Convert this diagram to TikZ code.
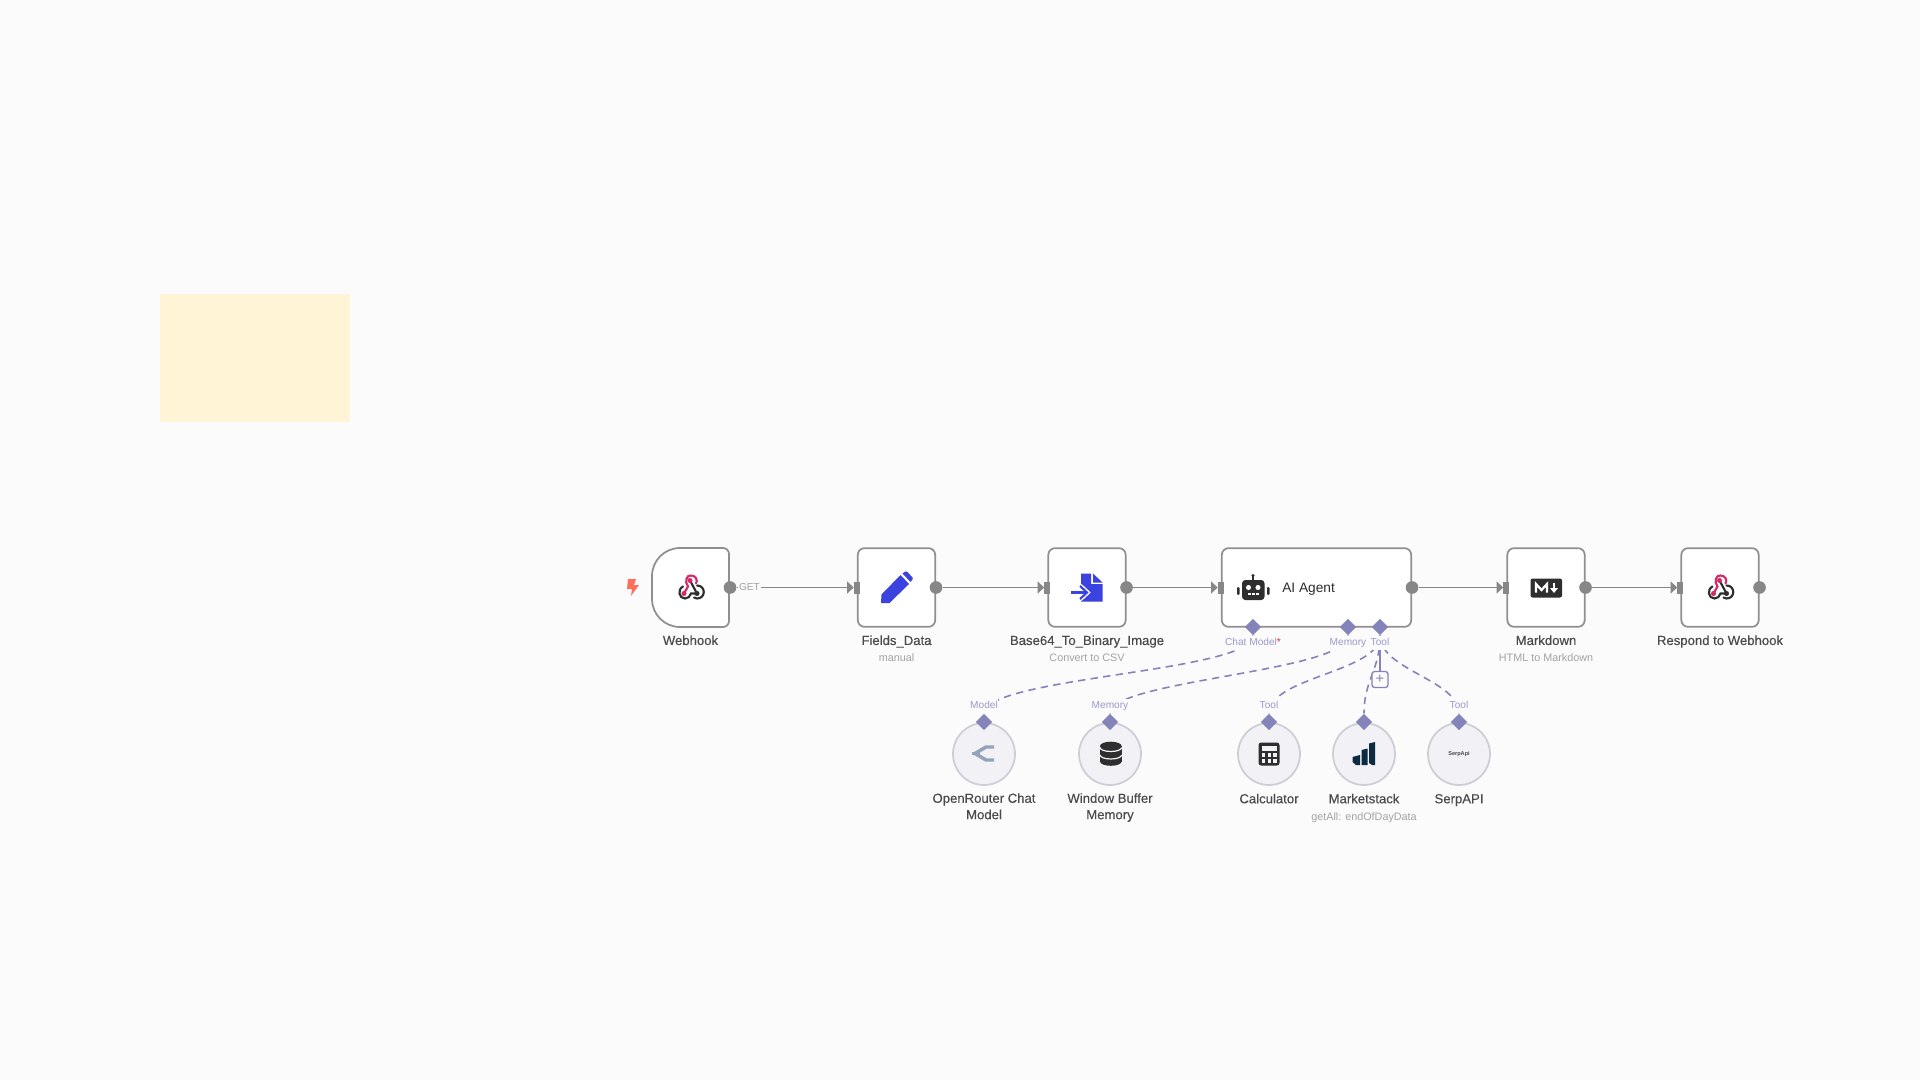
\documentclass[tikz,border=0pt]{standalone}
\usepackage{fontspec}
\setmainfont{Liberation Sans}
\newfontfamily\titlefont[FakeBold=0.25]{Liberation Sans}
\usetikzlibrary{arrows.meta,shapes.geometric}

\definecolor{canvasbg}{HTML}{FBFBFB}
\definecolor{stickyfill}{HTML}{FFF4D6}
\definecolor{boxline}{HTML}{8F8F8F}
\definecolor{portgrey}{HTML}{878787}
\definecolor{titletext}{HTML}{4A4A4A}
\definecolor{subtext}{HTML}{A3A3A3}
\definecolor{lilac}{HTML}{8584BA}
\definecolor{lilactext}{HTML}{9A99CB}
\definecolor{circlefill}{HTML}{F1F1F6}
\definecolor{circleline}{HTML}{CDCDD6}
\definecolor{iconblue}{HTML}{3A42E0}
\definecolor{icondark}{HTML}{2E2E2E}
\definecolor{iconpink}{HTML}{D62A68}
\definecolor{iconnavy}{HTML}{0D2B40}
\definecolor{iconslate}{HTML}{94A3B8}
\definecolor{boltred}{HTML}{FF6F5C}

\tikzset{
    nodebox/.style={draw=boxline, line width=1.3pt, fill=white, rounded corners=5pt, minimum width=58pt, minimum height=59pt, inner sep=0pt},
    subnode/.style={circle, draw=circleline, line width=1.3pt, fill=circlefill, minimum size=46.5pt, inner sep=0pt},
    outport/.style={circle, fill=portgrey, minimum size=9.5pt, inner sep=0pt},
    inport/.style={rectangle, fill=portgrey, minimum width=4.5pt, minimum height=9pt, inner sep=0pt},
    lilacport/.style={diamond, fill=lilac, minimum size=12.5pt, inner sep=0pt},
    flow/.style={draw=portgrey, line width=1.3pt, -{Triangle[length=5pt,width=9pt]}},
    subflow/.style={draw=lilac, line width=1.2pt, dash pattern=on 5.5pt off 4pt},
    title/.style={font=\titlefont\fontsize{9.85}{12.3}\selectfont, text=titletext, align=center, inner sep=0pt, execute at begin node=\strut},
    subtitle/.style={font=\fontsize{8.1}{10}\selectfont, text=subtext, inner sep=0pt, execute at begin node=\strut},
    portlabel/.style={font=\fontsize{7.6}{9}\selectfont, text=lilactext, fill=canvasbg, inner sep=0.4pt, execute at begin node=\strut},
    webhookicon/.pic={
        \draw[icondark, line width=1.6pt, line cap=round] (-8,-1) .. controls (-14,2) and (-12,11) .. (-6,11) .. controls (-3,11) and (-1,9) .. (0,6) -- (6,6);
        \draw[icondark, line width=1.6pt, line cap=round] (6,-2) .. controls (15,-2) and (15,11) .. (6,11) .. controls (5,11) and (4,11) .. (3,10);
        \draw[icondark, line width=1.6pt] (-1,-7) -- (6,6);
        \draw[iconpink, line width=1.6pt, line cap=round] (-7,6) -- (-3,-1) .. controls (-7,-6) and (-4,-13) .. (0,-12) .. controls (5,-12) and (7,-7) .. (5,-4);
        \fill[iconpink] (-7,6) circle (1.9pt);
        \fill[iconpink] (-1,-7) circle (1.9pt);
        \fill[icondark] (6,6) circle (1.9pt);
    },
}

\begin{document}
\begin{tikzpicture}[x=0.75pt, y=-0.75pt]
    % Canvas
    \fill[canvasbg] (0,0) rectangle (1920,1080);
    \useasboundingbox (0,0) rectangle (1920,1080);

    % Sticky note
    \fill[stickyfill] (160,294) rectangle (350,421.5);

    % Main row
    \node[nodebox, draw=none, fill=none] (webhook) at (690.5,587.5) {};
    \draw[draw=boxline, line width=1.3pt, fill=white] (690,548) -- (723,548) arc (-90:0:6) -- (729,621) arc (0:90:6) -- (680,627) arc (90:180:28) -- (652,576) arc (180:270:28) -- cycle;
    \node[nodebox] (fields) at (896.5,587.5) {};
    \node[nodebox] (base) at (1087,587.5) {};
    \node[nodebox, minimum width=142pt] (agent) at (1316.5,587.5) {};
    \node[nodebox] (markdown) at (1546,587.5) {};
    \node[nodebox] (respond) at (1720,587.5) {};

    % Ports of the main row
    \node[outport] (webhookOut) at (webhook.east) {};
    \node[inport] (fieldsIn) at (fields.west) {};
    \node[outport] (fieldsOut) at (fields.east) {};
    \node[inport] (baseIn) at (base.west) {};
    \node[outport] (baseOut) at (base.east) {};
    \node[inport] (agentIn) at (agent.west) {};
    \node[outport] (agentOut) at (agent.east) {};
    \node[inport] (markdownIn) at (markdown.west) {};
    \node[outport] (markdownOut) at (markdown.east) {};
    \node[inport] (respondIn) at (respond.west) {};
    \node[outport] (respondOut) at (respond.east) {};

    % Flow
    \draw[flow] (webhookOut) -- node[pos=0.11, font=\fontsize{7.6}{9}\selectfont, text=subtext, fill=canvasbg, inner sep=0.6pt] {GET} (fieldsIn);
    \draw[flow] (fieldsOut) -- (baseIn);
    \draw[flow] (baseOut) -- (agentIn);
    \draw[flow] (agentOut) -- (markdownIn);
    \draw[flow] (markdownOut) -- (respondIn);

    % Sub nodes
    \node[subnode] (router) at (984,754) {};
    \node[subnode] (memory) at (1110,754) {};
    \node[subnode] (calc) at (1269,754) {};
    \node[subnode] (market) at (1364,754) {};
    \node[subnode, font=\fontsize{4.2}{5}\selectfont\bfseries, text=titletext] (serp) at (1459,754) {SerpApi};

    % Lilac ports
    \node[lilacport] (chatPort) at (1253,627) {};
    \node[lilacport] (memoryPort) at (1348,627) {};
    \node[lilacport] (toolPort) at (1380,627) {};
    \node[lilacport] (routerPort) at (984,722) {};
    \node[lilacport] (bufferPort) at (1110,722) {};
    \node[lilacport] (calcPort) at (1269,722) {};
    \node[lilacport] (marketPort) at (1364,722) {};
    \node[lilacport] (serpPort) at (1459,722) {};

    % Dashed links
    \draw[subflow] (chatPort) .. controls (1253,672) and (984,677) .. (routerPort);
    \draw[subflow] (memoryPort) .. controls (1348,672) and (1110,680) .. (bufferPort);
    \draw[subflow] (toolPort) .. controls (1380,672) and (1269,677) .. (calcPort);
    \draw[subflow] (toolPort) .. controls (1380,670) and (1364,680) .. (marketPort);
    \draw[subflow] (toolPort) .. controls (1380,670) and (1459,680) .. (serpPort);

    % Add tool button
    \node[draw=lilac, line width=1pt, fill=canvasbg, rounded corners=2pt, minimum size=12pt, inner sep=0pt, text=lilac, font=\fontsize{11}{11}\selectfont] (addTool) at (1380,679.5) {+};
    \draw[draw=lilac, line width=1.2pt] (toolPort) -- (addTool);

    % Port labels
    \node[portlabel] (chatLabel) at (1253,643) {Chat Model\textcolor{red!70!lilactext}{*}};
    \node[portlabel] (memoryLabel) at (1348,643) {Memory};
    \node[portlabel] (toolLabel) at (1380,643) {Tool};
    \node[portlabel] (modelLabel) at (984,706) {Model};
    \node[portlabel] (bufferLabel) at (1110,706) {Memory};
    \node[portlabel] (calcLabel) at (1269,706) {Tool};
    \node[portlabel] (serpLabel) at (1459,706) {Tool};

    % Titles
    \node[title] (webhookTitle) at (690.5,641.7) {Webhook};
    \node[title] (fieldsTitle) at (896.5,641.7) {Fields\_Data};
    \node[subtitle] (fieldsSub) at (896.5,658.5) {manual};
    \node[title] (baseTitle) at (1087,641.7) {Base64\_To\_Binary\_Image};
    \node[subtitle] (baseSub) at (1087,658.5) {Convert to CSV};
    \node[title, anchor=west, font=\fontsize{10.3}{12.3}\selectfont, text=icondark] (agentTitle) at (1282,589) {AI Agent};
    \node[title] (markdownTitle) at (1546,641.7) {Markdown};
    \node[subtitle] (markdownSub) at (1546,658.5) {HTML to Markdown};
    \node[title] (respondTitle) at (1720,641.7) {Respond to Webhook};
    \node[title] (routerTitle) at (984,808.7) {OpenRouter Chat\\\strut Model};
    \node[title] (memoryTitle) at (1110,808.7) {Window Buffer\\\strut Memory};
    \node[title] (calcTitle) at (1269,800) {Calculator};
    \node[title] (marketTitle) at (1364,800) {Marketstack};
    \node[subtitle] (marketSub) at (1364,817.5) {getAll: endOfDayData};
    \node[title] (serpTitle) at (1459,800) {SerpAPI};

    % Trigger bolt
    \fill[boltred] (628,579) -- (636,579) -- (634,585) -- (639,585) -- (631,596) -- (632,589) -- (627,589) -- cycle;

    % Webhook icons
    \pic at (691,587.5) {webhookicon};
    \pic at (1720.5,587.5) {webhookicon};

    % Pencil
    \fill[iconblue] (881.5,594.5) -- (900.5,575) -- (909,584) -- (889.5,603) -- (881,603) -- cycle;
    \fill[iconblue] (902.5,573.5) -- (905,571.5) -- (907,571.5) -- (912.5,577.5) -- (912.5,579.5) -- (910.5,582) -- cycle;

    % Binary file
    \fill[iconblue] (1081,573.5) -- (1091,573.5) -- (1091,584) -- (1102.5,584) -- (1102.5,601.5) -- (1081,601.5) -- cycle;
    \fill[iconblue] (1093,573.5) -- (1102.5,582.5) -- (1093,582.5) -- cycle;
    \draw[white, line width=4pt] (1071,592.5) -- (1084,592.5);
    \draw[white, line width=3.8pt] (1080,586) -- (1087,592.5) -- (1080,599);
    \draw[iconblue, line width=1.6pt] (1071,592.5) -- (1086,592.5);
    \draw[iconblue, line width=1.6pt] (1080,586) -- (1087,592.5) -- (1080,599);

    % Robot
    \fill[icondark, rounded corners=2.5pt] (1242,580) rectangle (1264.5,600);
    \draw[icondark, line width=1pt] (1253,580) -- (1253,575.5);
    \fill[icondark] (1253,575.5) circle (1.3pt);
    \fill[icondark, rounded corners=0.8pt] (1237,587) rectangle (1239.5,595);
    \fill[icondark, rounded corners=0.8pt] (1267,587) rectangle (1269.5,595);
    \fill[white] (1248.5,587.5) circle (1.9pt);
    \fill[white] (1258,587.5) circle (1.9pt);
    \fill[white] (1248,593) rectangle (1250.5,595);
    \fill[white] (1252,593) rectangle (1254.5,595);
    \fill[white] (1256,593) rectangle (1258.5,595);

    % Markdown mark
    \fill[icondark, rounded corners=1.5pt] (1530.5,578.5) rectangle (1562,597.5);
    \draw[white, line width=1.7pt, line join=miter] (1536,592.5) -- (1536,584) -- (1541.5,590) -- (1547,584) -- (1547,592.5);
    \draw[white, line width=1.5pt] (1554,583) -- (1554,589);
    \fill[white] (1550,588) -- (1558,588) -- (1554,593) -- cycle;

    % OpenRouter mark
    \draw[iconslate, line width=2.6pt, line join=round] (994,747) -- (986,747) -- (975,753.5) -- (986,760) -- (994,760);
    \draw[iconslate, line width=2.6pt] (972,753.5) -- (980,753.5);

    % Database
    \fill[icondark] (1110.8,746) ellipse (10.8 and 4.3);
    \fill[icondark] (1110.8,761.5) ellipse (10.8 and 4.3);
    \fill[icondark] (1100,746) rectangle (1121.6,761.5);
    \draw[circlefill, line width=0.9pt] (1100,747.5) arc (180:0:10.8 and 4);
    \draw[circlefill, line width=0.9pt] (1100,755) arc (180:0:10.8 and 4);

    % Calculator
    \fill[icondark, rounded corners=2pt] (1258.5,742.5) rectangle (1279.5,765.5);
    \fill[circlefill] (1261.5,745.5) rectangle (1276.5,750.5);
    \fill[circlefill] (1261.5,753) rectangle (1265,756.5);
    \fill[circlefill] (1267.5,753) rectangle (1271,756.5);
    \fill[circlefill] (1273,753) rectangle (1276.5,756.5);
    \fill[circlefill] (1261.5,758.5) rectangle (1265,762.5);
    \fill[circlefill] (1267.5,758.5) rectangle (1271,762.5);
    \fill[circlefill] (1273,758.5) rectangle (1276.5,762.5);

    % Marketstack bars
    \fill[iconnavy] (1352.5,757) -- (1360,755) -- (1360,765) -- (1356,765) -- (1352.5,762) -- cycle;
    \fill[iconnavy] (1361.5,750) -- (1367.5,748.5) -- (1367.5,765) -- (1361.5,765) -- cycle;
    \fill[iconnavy] (1369,743.5) -- (1375,742) -- (1375,765) -- (1372,765) -- (1369,763) -- cycle;
\end{tikzpicture}
\end{document}
